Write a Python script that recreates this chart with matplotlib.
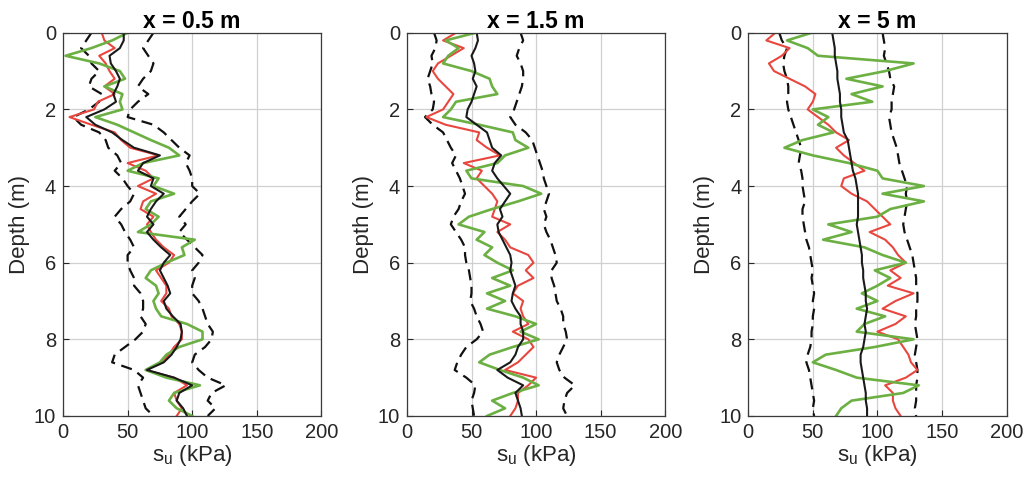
import numpy as np
import matplotlib
matplotlib.use("Agg")
import matplotlib.pyplot as plt

# depth grid (m), 0.2 m step
depth = np.round(np.arange(0, 10.01, 0.2), 1)

titles = ["x = 0.5 m", "x = 1.5 m", "x = 5 m"]

# ---- x = 0.5 m ----
mean1 = [47, 47, 44, 36, 37, 41, 44, 42, 39, 41, 32, 18, 25, 38, 46, 55, 75, 62, 58, 70,
         68, 78, 72, 68, 65, 70, 65, 70, 76, 83, 78, 75, 78, 81, 83, 78, 80, 85, 91, 92,
         91, 88, 84, 78, 65, 86, 100, 90, 88, 93, 96]
lo1 = [22, 18, 14, 20, 22, 28, 22, 20, 30, 28, 20, 8, 14, 28, 33, 35, 42, 45, 40, 46,
       50, 55, 52, 45, 40, 45, 48, 52, 55, 50, 50, 52, 55, 55, 60, 62, 62, 60, 64, 62,
       56, 48, 40, 38, 55, 62, 58, 60, 62, 64, 70]
hi1 = [70, 66, 62, 66, 70, 68, 62, 58, 66, 58, 52, 50, 70, 78, 84, 90, 98, 95, 98, 100,
       100, 106, 100, 95, 90, 95, 90, 96, 102, 108, 105, 100, 102, 100, 100, 105, 108, 110, 112, 116,
       115, 110, 102, 100, 105, 112, 126, 115, 112, 118, 112]
red1 = [30, 32, 40, 28, 33, 36, 40, 32, 40, 27, 24, 5, 22, 40, 45, 52, 74, 50, 64, 70,
        58, 72, 62, 60, 70, 65, 68, 72, 78, 86, 82, 72, 76, 80, 80, 76, 82, 84, 90, 92,
        92, 86, 82, 76, 64, 86, 96, 86, 88, 92, 88]
green1 = [50, 38, 22, 2, 28, 44, 48, 32, 46, 44, 46, 25, 42, 55, 68, 82, 90, 62, 50, 74,
          70, 86, 68, 64, 74, 68, 58, 102, 92, 94, 80, 68, 64, 72, 74, 70, 72, 76, 96, 108,
          108, 90, 80, 75, 64, 80, 106, 86, 82, 88, 100]

# ---- x = 1.5 m ----
mean2 = [54, 55, 53, 50, 52, 53, 51, 54, 52, 50, 47, 46, 54, 62, 64, 66, 73, 68, 66, 70,
         75, 80, 76, 72, 74, 70, 71, 74, 77, 80, 81, 80, 82, 84, 82, 81, 84, 88, 88, 90,
         90, 86, 84, 80, 70, 78, 90, 84, 86, 88, 89]
lo2 = [21, 23, 22, 19, 20, 18, 16, 18, 19, 21, 20, 14, 20, 28, 31, 34, 38, 35, 38, 41,
       43, 45, 42, 40, 36, 34, 38, 42, 45, 45, 46, 48, 49, 50, 50, 49, 52, 54, 57, 59,
       54, 46, 42, 39, 37, 46, 53, 52, 50, 51, 52]
hi2 = [88, 90, 87, 85, 88, 90, 90, 89, 87, 85, 83, 80, 84, 92, 97, 99, 101, 103, 105, 106,
       108, 110, 108, 106, 108, 106, 108, 111, 113, 115, 116, 112, 112, 114, 115, 116, 119, 121, 121, 123,
       124, 121, 118, 116, 118, 122, 130, 124, 122, 121, 124]
red2 = [38, 28, 44, 34, 24, 20, 24, 30, 36, 32, 28, 15, 30, 56, 54, 62, 72, 44, 58, 54,
        60, 66, 70, 68, 66, 80, 70, 76, 80, 94, 98, 92, 98, 86, 82, 90, 88, 90, 94, 82,
        94, 98, 92, 86, 76, 100, 94, 86, 86, 84, 80]
green2 = [53, 30, 40, 32, 28, 50, 64, 66, 70, 38, 34, 28, 56, 82, 84, 94, 76, 70, 46, 50,
          90, 104, 86, 66, 48, 40, 60, 54, 66, 60, 70, 82, 66, 80, 62, 76, 62, 84, 100, 88,
          102, 82, 64, 56, 72, 90, 102, 82, 66, 76, 62]

# ---- x = 5 m ----
mean3 = [65, 66, 67, 67, 68, 69, 69, 70, 71, 71, 72, 72, 73, 74, 77, 78, 79, 80, 81, 83,
         84, 85, 85, 85, 85, 84, 85, 86, 87, 88, 88, 89, 89, 90, 91, 91, 92, 91, 90, 91,
         90, 89, 87, 87, 88, 89, 90, 91, 91, 92, 92]
lo3 = [24, 26, 30, 28, 27, 28, 30, 31, 31, 30, 31, 33, 35, 37, 39, 41, 40, 39, 41, 42,
       42, 43, 44, 42, 42, 43, 44, 45, 47, 48, 49, 50, 49, 50, 51, 50, 51, 50, 50, 49,
       49, 48, 46, 45, 47, 48, 49, 50, 51, 50, 51]
hi3 = [104, 105, 106, 105, 107, 109, 110, 113, 112, 111, 111, 109, 110, 111, 113, 115, 116, 117, 119, 121,
       123, 122, 123, 122, 121, 120, 121, 123, 125, 127, 128, 129, 130, 130, 131, 131, 130, 130, 129, 130,
       131, 130, 129, 130, 131, 131, 130, 130, 130, 129, 130]
red3 = [21, 14, 32, 26, 16, 20, 32, 44, 52, 50, 46, 54, 62, 68, 78, 68, 74, 82, 90, 74,
        72, 80, 92, 98, 104, 110, 94, 106, 112, 116, 122, 110, 118, 108, 128, 114, 104, 122, 114, 100,
        116, 120, 124, 126, 131, 122, 106, 112, 112, 114, 118]
green3 = [49, 30, 46, 54, 128, 106, 76, 104, 80, 96, 50, 62, 54, 66, 42, 28, 50, 78, 100, 104,
          136, 104, 136, 110, 100, 62, 80, 58, 90, 104, 122, 98, 110, 100, 88, 100, 84, 106, 90, 84,
          128, 98, 60, 50, 68, 84, 132, 120, 80, 72, 68]

panels = [
    (mean1, lo1, hi1, red1, green1),
    (mean2, lo2, hi2, red2, green2),
    (mean3, lo3, hi3, red3, green3),
]

plt.rcParams['font.family'] = ['Liberation Sans', 'DejaVu Sans']

fig = plt.figure(figsize=(10.25, 4.82), dpi=100)
lefts = [0.0615, 0.397, 0.730]

for k, (mean, lo, hi, red, green) in enumerate(panels):
    ax = fig.add_axes([lefts[k], 0.137, 0.252, 0.795])
    ax.plot(lo, depth, color='#111111', ls=(0, (5, 3)), lw=1.6)
    ax.plot(hi, depth, color='#111111', ls=(0, (5, 3)), lw=1.6)
    ax.plot(red, depth, color='#e8473f', lw=1.5)
    ax.plot(green, depth, color='#6cb043', lw=1.9)
    ax.plot(mean, depth, color='#1a1a1a', lw=1.5)

    ax.set_xlim(0, 200)
    ax.set_ylim(10, 0)
    ax.set_xticks([0, 50, 100, 150, 200])
    ax.set_yticks([0, 2, 4, 6, 8, 10])
    ax.grid(True, color='#d0d0d0', lw=0.9)
    ax.set_axisbelow(True)
    ax.tick_params(direction='in', labelsize=14.5, colors='#262626', length=4, pad=5)
    for s in ax.spines.values():
        s.set_color('#3a3a3a')
        s.set_linewidth(0.9)
    ax.set_title(titles[k], fontsize=16.5, fontweight='bold', pad=3)
    ax.set_xlabel('s$_\\mathregular{u}$ (kPa)', fontsize=16, color='#262626', labelpad=1)
    ax.set_ylabel('Depth (m)', fontsize=16, color='#262626', labelpad=3)

fig.savefig('out.png', dpi=100, facecolor='white')
